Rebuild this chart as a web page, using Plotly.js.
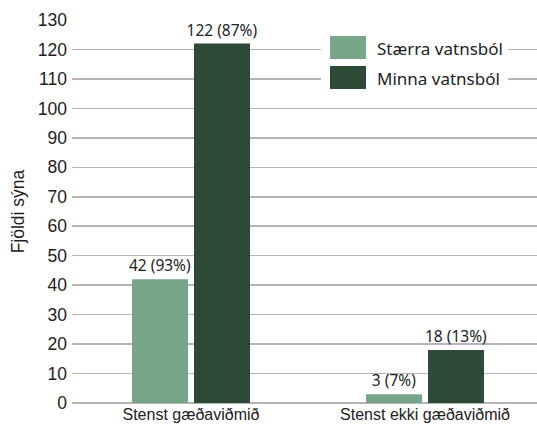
<!DOCTYPE html>
<html><head><meta charset="utf-8">
<script src="https://cdn.plot.ly/plotly-3.0.1.min.js"></script>
<style>html,body{margin:0;padding:0;background:#fff;}#chart{width:537px;height:428px;}</style>
</head><body><div id="chart"></div>
<script>
const categories = ["Stenst gæðaviðmið", "Stenst ekki gæðaviðmið"];
const seriesNames = ["Stærra vatnsból", "Minna vatnsból"];
const largerValues = [42, 3];
const largerPct = [93, 7];
const smallerValues = [122, 18];
const smallerPct = [87, 13];
const colors = ["#78a688", "#2d4a37"];

function labels(v, p) { return v.map((x, i) => x + " (" + p[i] + "%)"); }

const SANS = "Liberation Sans";
const LABEL = "Noto Sans";
const labelFont = {family: LABEL, size: 15.5, color: "#222"};
const traces = [
  {type: "bar", x: [0, 1], y: largerValues, name: seriesNames[0], marker: {color: colors[0]},
   text: labels(largerValues, largerPct), textposition: "outside", constraintext: "none", textfont: labelFont, cliponaxis: false, showlegend: false},
  {type: "bar", x: [0, 1], y: smallerValues, name: seriesNames[1], marker: {color: colors[1]},
   text: labels(smallerValues, smallerPct), textposition: "outside", constraintext: "none", textfont: labelFont, cliponaxis: false, showlegend: false}
];

const L = 72, R = 537, T = 20, B = 403;
const px = x => (x - L) / (R - L);
const py = y => (B - y) / (B - T);

const shapes = [
  {type: "rect", xref: "paper", yref: "paper", x0: px(321), x1: px(508), y0: py(97), y1: py(30), fillcolor: "#fff", line: {width: 0}, layer: "above"},
  {type: "rect", xref: "paper", yref: "paper", x0: px(330), x1: px(366), y0: py(59), y1: py(36), fillcolor: colors[0], line: {width: 0}, layer: "above"},
  {type: "rect", xref: "paper", yref: "paper", x0: px(330), x1: px(366), y0: py(89), y1: py(66), fillcolor: colors[1], line: {width: 0}, layer: "above"}
];
const annotations = seriesNames.map((n, i) => ({
  xref: "paper", yref: "paper", x: px(375), y: py(48 + 30 * i), xanchor: "left", yanchor: "middle",
  text: n, showarrow: false, font: {family: LABEL, size: 17, color: "#222"}
}));

const layout = {
  width: 537, height: 428,
  margin: {l: L, r: 537 - R, t: T, b: 428 - B},
  paper_bgcolor: "#fff", plot_bgcolor: "rgba(0,0,0,0)",
  barmode: "group", bargap: 0.47, bargroupgap: 0.097,
  showlegend: false,
  font: {family: SANS, color: "#222"},
  xaxis: {range: [-0.5085, 1.4786], tickmode: "array", tickvals: [0, 1], ticktext: categories,
          tickfont: {family: SANS, size: 16, color: "#222"}, showgrid: false, ticks: "", showline: false, zeroline: false},
  yaxis: {range: [0, 130], dtick: 10, tick0: 0, tickfont: {family: SANS, size: 17.5, color: "#222"},
          gridcolor: "#b5b5b5", gridwidth: 1.5, zeroline: true, zerolinecolor: "#b5b5b5", zerolinewidth: 1.5,
          showline: false, ticks: "", ticklabelstandoff: 4,
          title: {text: "Fjöldi sýna", font: {family: SANS, size: 17.5, color: "#222"}, standoff: 8}},
  shapes: shapes, annotations: annotations
};
Plotly.newPlot("chart", traces, layout, {displayModeBar: false, staticPlot: true});
</script></body></html>
